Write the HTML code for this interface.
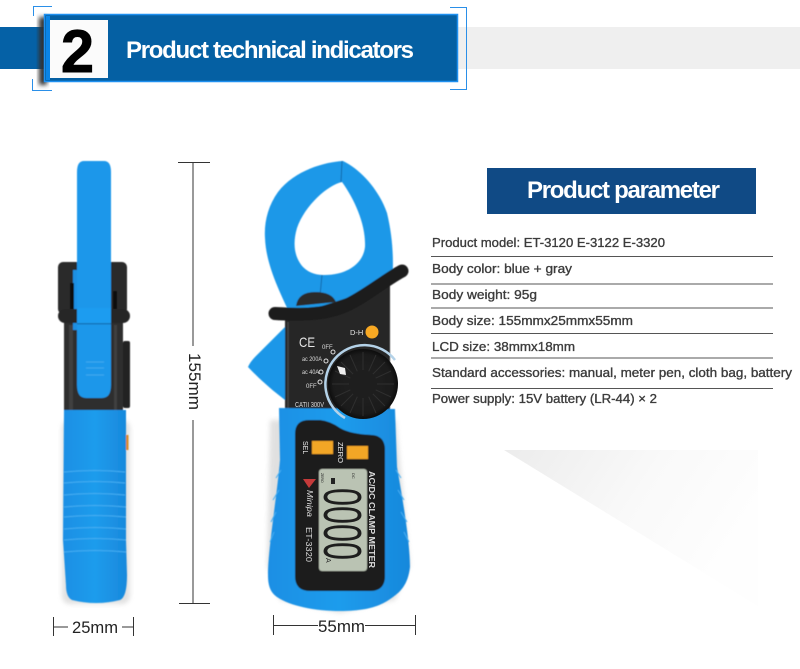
<!DOCTYPE html>
<html><head><meta charset="utf-8">
<style>html,body{margin:0;padding:0;background:#fff}svg{display:block}
text{font-family:"Liberation Sans",sans-serif}</style></head>
<body>
<svg xmlns="http://www.w3.org/2000/svg" width="800" height="669" viewBox="0 0 800 669">
<defs>
<linearGradient id="tri" x1="0" y1="0" x2="1" y2="0.4"><stop offset="0" stop-color="#ececec"/><stop offset="0.55" stop-color="#f9f9f9"/><stop offset="1" stop-color="#fefefe"/></linearGradient>
<linearGradient id="blueV" x1="0" y1="0" x2="1" y2="0"><stop offset="0" stop-color="#1c8fe4"/><stop offset="0.5" stop-color="#1e9cec"/><stop offset="1" stop-color="#1888dc"/></linearGradient>
<radialGradient id="knob" cx="0.5" cy="0.5" r="0.5"><stop offset="0" stop-color="#222"/><stop offset="0.85" stop-color="#1b1b1b"/><stop offset="1" stop-color="#0d0d0d"/></radialGradient>
<filter id="b1" x="-20%" y="-20%" width="140%" height="140%"><feGaussianBlur stdDeviation="0.5"/></filter>
<filter id="b3" x="-30%" y="-30%" width="160%" height="160%"><feGaussianBlur stdDeviation="2.500"/></filter>
</defs>
<rect width="800" height="669" fill="#fff"/>

<!-- header -->
<rect x="458" y="27" width="342" height="42" fill="#efefef"/>
<rect x="0" y="27" width="46" height="42" fill="#0561a6"/>
<rect x="39" y="17" width="8" height="68" fill="#333" filter="url(#b3)"/>
<path d="M52 6.500H33.500V16M52 90.500H32.500V79M450 7.500H466.500V89.500H450" fill="none" stroke="#2a8fe8" stroke-width="1"/>
<rect x="44.500" y="14.500" width="413" height="67" fill="#0560a3" stroke="#1f90f0" stroke-width="1.500"/>
<rect x="46" y="16" width="4" height="64" fill="#0a84e6"/>
<rect x="50" y="20" width="58" height="58" fill="#fbfbfb"/>
<text x="61" y="72" font-size="60" font-weight="bold" fill="#000" stroke="#000" stroke-width="1" textLength="33" lengthAdjust="spacingAndGlyphs">2</text>
<text x="126" y="58" font-size="24" font-weight="bold" fill="#fff" textLength="288" lengthAdjust="spacing">Product technical indicators</text>

<!-- triangle -->
<polygon points="504,450 758,450 758,606" fill="url(#tri)"/>

<!-- shadows -->
<rect x="62" y="420" width="68" height="184" rx="8" fill="#888" opacity="0.25" filter="url(#b3)"/>
<path d="M270 420H396L410 565L395 600L340 613L280 600L267 565Z" fill="#888" opacity="0.25" filter="url(#b3)"/>

<!-- side view -->
<g filter="url(#b1)">
<rect x="58" y="262" width="69" height="52" rx="5" fill="#2b2b2b"/>
<rect x="64" y="318" width="59" height="95" fill="#2e2e2e"/>
<rect x="123" y="341" width="7" height="67" rx="2" fill="#222"/>
<rect x="69" y="325" width="4" height="85" fill="#3f3f3f"/>
<rect x="114" y="325" width="3" height="85" fill="#3f3f3f"/>
<rect x="73" y="270" width="6" height="60" fill="#1b8fe2"/>
<path d="M77 172Q77 161 84 161H104Q111 161 111 172V385Q111 398 102 398H86Q77 398 77 385Z" fill="#1c97ea"/>
<rect x="58" y="309" width="72" height="14" rx="7" fill="#282828"/>
<rect x="77" y="308" width="34" height="16" fill="#1e9cf0"/>
<rect x="77" y="323" width="34" height="1.500" fill="#1474bb"/>
<path d="M86 362H104M86 368H104M86 375H104" stroke="#3fa9ef" stroke-width="1"/>
<rect x="70" y="283" width="4" height="26" fill="#111"/>
<rect x="113" y="291" width="4" height="18" fill="#111"/>
<path d="M64 410H126V540L127 575Q127 597 120 600Q96 606 72 600Q66 597 66 585L63 540Z" fill="url(#blueV)"/>
<rect x="126" y="435" width="2.500" height="15" fill="#d98a2b"/>
<path d="M64 472Q95 469 125 472M64 483Q95 480 125 483M64 495Q95 492 125 495M64 507Q95 504 126 507M64 517Q95 514 126 517M64 529Q95 526 126 529M64 540Q95 537 126 540M64 552Q95 549 126 552" fill="none" stroke="#45aef2" stroke-width="1.100"/>
</g>

<!-- front view: jaw -->
<g filter="url(#b1)">
<path d="M285 327L256 356Q250 362 248 367Q265 385 285 400Z" fill="#1c97e8"/>
<path fill-rule="evenodd" fill="#1f98e8" d="M343 161C325 162 295 170 278 192C268 206 264 222 265 238C266 262 276 285 292 318L392 284C394 262 393 238 387 213C380 192 362 170 343 161Z
M342 182C328 185 305 205 297 228C292 245 295 258 303 267C310 274 318 275 325 275C345 275 363 265 365 247C366 225 355 200 342 182Z"/>
<path d="M342 161L341 182M322 275L320 296" stroke="#1368a8" stroke-width="1"/>
<path d="M296 306Q298 292 315 292Q332 292 336 302Z" fill="#2a2a2a"/>
<path d="M285 318L390 284V412H285Z" fill="#262626"/>
<path d="M288 322V410" stroke="#454545" stroke-width="1.500"/>
<path d="M275 313.500C300 315 325 315 345 306C365 297 385 280 402 271" fill="none" stroke="#1b1b1b" stroke-width="13" stroke-linecap="round"/>

<!-- lower body -->
<path d="M279 408L395 409L397 467C401 490 410 540 410 567C408 585 400 592 393 597C380 607 365 611 340 611C315 611 290 606 277 597C270 592 268 585 268 575C268 550 277 495 280 460Z" fill="url(#blueV)"/>
<path d="M281 470L276 478M279 490L273 500M276 512L271 522M274 532L270 542" stroke="#45aef2" stroke-width="1"/>
<path d="M396 470L401 478M398 490L404 500M401 512L407 522M404 532L409 542" stroke="#45aef2" stroke-width="1"/>

<!-- panel -->
<path d="M295 434Q295 420 309 420H320Q330 421 340 428Q350 434 372 435Q385 436 385 450V576Q385 591 370 591H310Q295 591 295 576Z" fill="#1d1d1d"/>
<rect x="312" y="441" width="21" height="13" fill="#f2a626"/>
<rect x="347" y="446" width="21" height="13" fill="#f2a626"/>
<rect x="319" y="469" width="48" height="102" rx="3" fill="#bac3b3"/>
</g>
<text transform="translate(303,441) rotate(90)" font-size="7" fill="#eee">SEL</text>
<text transform="translate(338,442) rotate(90)" font-size="7" fill="#eee" textLength="21" lengthAdjust="spacingAndGlyphs">ZERO</text>
<text transform="translate(369,471) rotate(90)" font-size="8" font-weight="bold" fill="#ddd" textLength="97" lengthAdjust="spacingAndGlyphs">AC/DC  CLAMP METER</text>
<text transform="translate(306,527) rotate(90)" font-size="8.500" fill="#ddd" textLength="35" lengthAdjust="spacingAndGlyphs">ET-3320</text>
<text transform="translate(307,490) rotate(90)" font-size="8" font-style="italic" fill="#ddd" textLength="27" lengthAdjust="spacingAndGlyphs">Minipa</text>
<polygon points="303,479 316,479 309,488" fill="#c43a3a"/>
<text transform="translate(321,473) rotate(90)" font-size="3.500" fill="#222">ZERO</text>
<text transform="translate(352,473) rotate(90)" font-size="4" fill="#222">DC</text>
<rect x="331" y="478" width="4" height="6" fill="#222"/>
<text transform="translate(324,488) rotate(90) scale(0.6,1)" font-size="54" fill="#1e1e1e">0000</text>
<text transform="translate(326,558) rotate(90)" font-size="7" fill="#222">A</text>

<!-- dial -->
<path d="M395 360A39 39 0 1 0 345 418" fill="none" stroke="#b4d2e8" stroke-width="2.500"/>
<circle cx="363" cy="384" r="35" fill="url(#knob)"/>
<g stroke="#2f2f2f" stroke-width="1">
<path d="M363 352V416M332 384H394M341 362L385 406M385 362L341 406M350 355L376 413M376 355L350 413M335 371L391 397M391 371L335 397"/>
</g>
<circle cx="363" cy="384" r="14" fill="#1e1e1e"/>
<polygon points="337,366 345,368 346,375 340,374" fill="#eee"/>
<circle cx="372" cy="332" r="6.500" fill="#f7a823"/>
<text x="350" y="335" font-size="7.500" fill="#e6e6e6">D-H</text>
<text x="299" y="347" font-size="14" fill="#e6e6e6" textLength="16" lengthAdjust="spacingAndGlyphs">CE</text>
<text x="322" y="349" font-size="6" fill="#ddd">0FF</text>
<text x="302" y="361" font-size="6" fill="#ddd" textLength="20" lengthAdjust="spacingAndGlyphs">ac 200A</text>
<text x="302" y="374" font-size="6" fill="#ddd" textLength="17" lengthAdjust="spacingAndGlyphs">ac 40A</text>
<text x="306" y="388" font-size="6" fill="#ddd">0FF</text>
<g fill="#222" stroke="#ddd" stroke-width="1"><circle cx="333" cy="352" r="2"/><circle cx="326" cy="361" r="2"/><circle cx="321" cy="372" r="2"/><circle cx="320" cy="382" r="2"/></g>
<text x="295" y="407" font-size="7" fill="#ddd" textLength="29" lengthAdjust="spacingAndGlyphs">CATII 300V</text>

<!-- dims -->
<path d="M178 162.500H210M193 162V346M193 420V603M179 603.500H210" stroke="#333" stroke-width="1" fill="none"/>
<text transform="translate(189,353) rotate(90)" font-size="17" fill="#222" textLength="57" lengthAdjust="spacingAndGlyphs">155mm</text>
<path d="M53.500 617V636M53 627H68M122 627H133M133.500 617V636" stroke="#333" stroke-width="1" fill="none"/>
<text x="72" y="633" font-size="17" fill="#222" textLength="46" lengthAdjust="spacingAndGlyphs">25mm</text>
<path d="M273.500 615V635M273 625.500H318M365 625.500H415M415.500 615V635" stroke="#333" stroke-width="1" fill="none"/>
<text x="318" y="632" font-size="17" fill="#222" textLength="47" lengthAdjust="spacingAndGlyphs">55mm</text>

<!-- parameter -->
<rect x="487" y="168" width="269" height="46" fill="#104a85"/>
<text x="527" y="198" font-size="24" font-weight="bold" fill="#fff" textLength="193" lengthAdjust="spacing">Product parameter</text>
<g font-size="13" fill="#3c3c3c" stroke="#3c3c3c" stroke-width="0.350">
<text x="432" y="247" textLength="233" lengthAdjust="spacingAndGlyphs">Product model: ET-3120 E-3122 E-3320</text>
<text x="432" y="273" textLength="140" lengthAdjust="spacingAndGlyphs">Body color: blue + gray</text>
<text x="432" y="299" textLength="105" lengthAdjust="spacingAndGlyphs">Body weight: 95g</text>
<text x="432" y="325" textLength="201" lengthAdjust="spacingAndGlyphs">Body size: 155mmx25mmx55mm</text>
<text x="432" y="351" textLength="143" lengthAdjust="spacingAndGlyphs">LCD size: 38mmx18mm</text>
<text x="432" y="377" textLength="360" lengthAdjust="spacingAndGlyphs">Standard accessories: manual, meter pen, cloth bag, battery</text>
<text x="432" y="403" textLength="225" lengthAdjust="spacingAndGlyphs">Power supply: 15V battery (LR-44) × 2</text>
</g>
<path d="M431 256.500H773M431 284H773M431 308H773M431 333.500H773M431 358H773M431 388.500H773" stroke="#555" stroke-width="1" fill="none"/>
</svg>
</body></html>
